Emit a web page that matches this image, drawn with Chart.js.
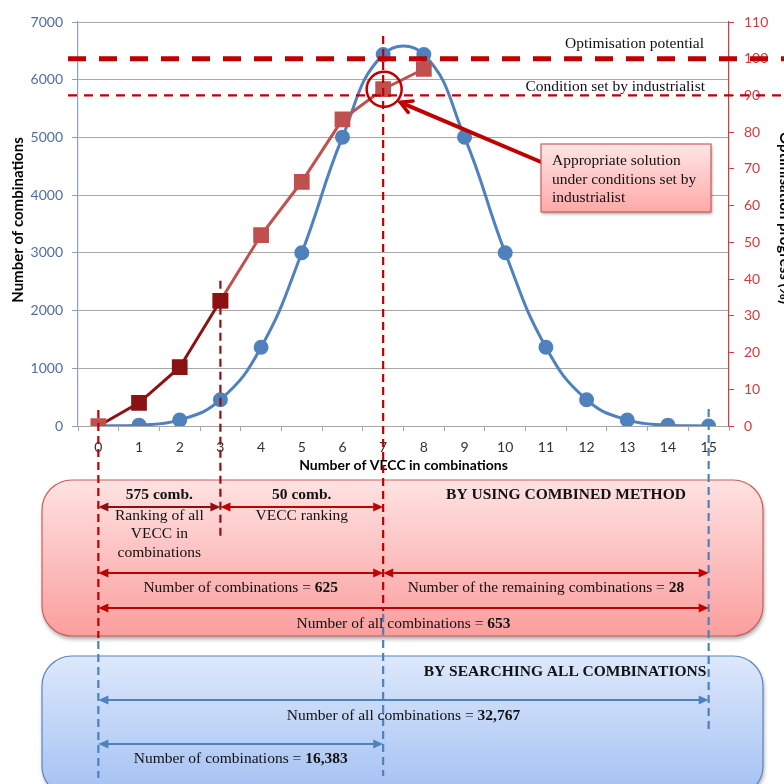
<!DOCTYPE html>
<html><head><meta charset="utf-8">
<script src="https://cdn.jsdelivr.net/npm/chart.js@4"></script>
<style>html,body{margin:0;padding:0;background:#fff;overflow:hidden}#wrap{width:784px;height:784px;position:relative}</style>
</head><body><div id="wrap"><canvas id="c"></canvas></div>
<script>
const categories = ['0','1','2','3','4','5','6','7','8','9','10','11','12','13','14','15'];
const combinations = [1,15,105,455,1365,3003,5005,6435,6435,5005,3003,1365,455,105,15,1];
const rankingProgress = [0,6.3,16.0,34.1];
const veccProgress = [null,null,null,34.1,52.0,66.5,83.5,91.7,97.2];
const leftTicks = [0,1000,2000,3000,4000,5000,6000,7000];
const rightTicks = [0,10,20,30,40,50,60,70,80,90,100,110];
const optimisationPotential = 100;
const industrialistCondition = 90;
const chosenIndex = 7;

const SERIF = '"Liberation Serif", "Times New Roman", serif';
const SANS = 'Lato, "Open Sans", sans-serif';
const RED = '#c00000', DARK = '#8b1212', LRED = '#c0504d', BLUE = '#4f81bd';
const FS = 15.5;

function dashedV(ctx, x, y1, y2, color, w, dash){
  ctx.save();ctx.strokeStyle=color;ctx.lineWidth=w;ctx.setLineDash(dash);
  ctx.beginPath();ctx.moveTo(x,y1);ctx.lineTo(x,y2);ctx.stroke();ctx.restore();
}
function dashedH(ctx, x1, x2, y, color, w, dash){
  ctx.save();ctx.strokeStyle=color;ctx.lineWidth=w;ctx.setLineDash(dash);
  ctx.beginPath();ctx.moveTo(x1,y);ctx.lineTo(x2,y);ctx.stroke();ctx.restore();
}
function dblArrow(ctx, x1, x2, y, color, left=true, right=true){
  const L=10, H=4.5;
  ctx.save();ctx.strokeStyle=color;ctx.fillStyle=color;ctx.lineWidth=2.2;
  ctx.beginPath();ctx.moveTo(x1+(left?L-2:0),y);ctx.lineTo(x2-(right?L-2:0),y);ctx.stroke();
  if(left){ctx.beginPath();ctx.moveTo(x1,y);ctx.lineTo(x1+L,y-H);ctx.lineTo(x1+L,y+H);ctx.closePath();ctx.fill();}
  if(right){ctx.beginPath();ctx.moveTo(x2,y);ctx.lineTo(x2-L,y-H);ctx.lineTo(x2-L,y+H);ctx.closePath();ctx.fill();}
  ctx.restore();
}
function roundBox(ctx, x, y, w, h, r, top, bottom, stroke){
  ctx.save();
  const g=ctx.createLinearGradient(0,y,0,y+h);g.addColorStop(0,top);g.addColorStop(1,bottom);
  ctx.beginPath();ctx.roundRect(x,y,w,h,r);
  ctx.shadowColor='rgba(0,0,0,0.35)';ctx.shadowBlur=4;ctx.shadowOffsetY=3;ctx.shadowOffsetX=1;
  ctx.fillStyle=g;ctx.fill();
  ctx.shadowColor='transparent';
  ctx.strokeStyle=stroke;ctx.lineWidth=1.2;ctx.stroke();
  ctx.restore();
}
function txt(ctx, parts, cx, cy, size, align='center'){
  ctx.save();ctx.textBaseline='middle';ctx.fillStyle='#111';
  let total=0;
  parts.forEach(p=>{ctx.font=(p[1]?'bold ':'')+size+'px '+SERIF;total+=ctx.measureText(p[0]).width;});
  let x = align==='center'?cx-total/2:(align==='right'?cx-total:cx);
  ctx.textAlign='left';
  parts.forEach(p=>{ctx.font=(p[1]?'bold ':'')+size+'px '+SERIF;ctx.fillText(p[0],x,cy);x+=ctx.measureText(p[0]).width;});
  ctx.restore();
}

const overlay = {
  id:'overlay',
  afterDraw(chart){
    const ctx=chart.ctx, xs=chart.scales.x, yl=chart.scales.y, yr=chart.scales.y1;
    const X=i=>xs.getPixelForValue(i);
    const x0=X(0), x3=X(3), x7=X(7), x15=X(15);
    const ca=chart.chartArea;

    // axis titles
    ctx.save();ctx.fillStyle='#000';ctx.font='bold 14px '+SANS;ctx.textAlign='center';ctx.textBaseline='middle';
    ctx.fillText('Number of VECC in combinations',(ca.left+ca.right)/2,465);
    ctx.restore();
    ctx.save();ctx.fillStyle='#000';ctx.font='bold 15px '+SANS;ctx.textAlign='center';ctx.textBaseline='middle';
    ctx.translate(18,220);ctx.rotate(-Math.PI/2);
    ctx.fillText('Number of combinations',0,0);
    ctx.restore();
    ctx.save();ctx.fillStyle='#000';ctx.font='bold 15px '+SANS;ctx.textAlign='center';ctx.textBaseline='alphabetic';
    ctx.translate(780,218);ctx.rotate(Math.PI/2);
    ctx.fillText('Optimisation progress (%)',0,0);
    ctx.restore();

    // horizontal dashed reference lines
    const y100=yr.getPixelForValue(optimisationPotential), y90=yr.getPixelForValue(industrialistCondition);
    dashedH(ctx,68,784,y100,RED,5,[18,13]);
    dashedH(ctx,68,784,y90,RED,2.2,[9,7]);
    txt(ctx,[['Optimisation potential',false]],704,y100-15,FS,'right');
    txt(ctx,[['Condition set by industrialist',false]],705,y90-9,FS,'right');

    // boxes
    roundBox(ctx,42,480,721,156,30,'#ffe2e2','#fb9e9e','#c9605d');
    roundBox(ctx,42,656,721,140,30,'#dde8fb','#a3c1f3','#5a86c0');

    // vertical dashed lines
    dashedV(ctx,x0,410,638,RED,2.2,[8,5]);
    dashedV(ctx,x0,641,778,BLUE,2.2,[8,5]);
    dashedV(ctx,x3,yr.getPixelForValue(rankingProgress[3])-20,537,DARK,2.2,[8,5]);
    dashedV(ctx,x7,36,611,RED,2.2,[8,5]);
    dashedV(ctx,x7,614,776,BLUE,2.2,[8,5]);
    dashedV(ctx,x15,409,730,BLUE,2.2,[8,5]);

    // circle around chosen point and arrow
    const py=yr.getPixelForValue(veccProgress[chosenIndex]);
    ctx.save();ctx.strokeStyle=RED;ctx.lineWidth=2.5;
    ctx.beginPath();ctx.arc(x7+1,py,17.5,0,Math.PI*2);ctx.stroke();
    const tx=x7+17, ty=py+13, sx=541, sy=162;
    ctx.lineWidth=4;ctx.lineCap='round';
    ctx.beginPath();ctx.moveTo(sx,sy);ctx.lineTo(tx+2,ty+1);ctx.stroke();
    const ang=Math.atan2(sy-ty,sx-tx);
    ctx.lineWidth=3.5;
    ctx.beginPath();
    ctx.moveTo(tx+13*Math.cos(ang+0.5),ty+13*Math.sin(ang+0.5));ctx.lineTo(tx,ty);
    ctx.lineTo(tx+13*Math.cos(ang-0.5),ty+13*Math.sin(ang-0.5));ctx.stroke();
    ctx.restore();
    // callout
    ctx.save();
    const g=ctx.createLinearGradient(0,144,0,212);g.addColorStop(0,'#ffe6e6');g.addColorStop(1,'#ffa8a8');
    ctx.shadowColor='rgba(0,0,0,0.35)';ctx.shadowBlur=3;ctx.shadowOffsetY=2;ctx.shadowOffsetX=1;
    ctx.fillStyle=g;ctx.fillRect(541,144,170,68);
    ctx.shadowColor='transparent';ctx.strokeStyle='#c9605d';ctx.lineWidth=1.2;ctx.strokeRect(541,144,170,68);
    ctx.restore();
    txt(ctx,[['Appropriate solution',false]],552,161,FS,'left');
    txt(ctx,[['under conditions set by',false]],552,180,FS,'left');
    txt(ctx,[['industrialist',false]],552,198,FS,'left');

    // red box content
    txt(ctx,[['BY USING COMBINED METHOD',true]],566,495,FS);
    txt(ctx,[['575 comb.',true]],(x0+x3)/2,495,FS);
    txt(ctx,[['50 comb.',true]],(x3+x7)/2,495,FS);
    dblArrow(ctx,x0,x3,507,DARK);
    dblArrow(ctx,x3,x7,507,RED);
    txt(ctx,[['Ranking of all',false]],(x0+x3)/2,516,FS);
    txt(ctx,[['VECC in',false]],(x0+x3)/2,534,FS);
    txt(ctx,[['combinations',false]],(x0+x3)/2,553,FS);
    txt(ctx,[['VECC ranking',false]],(x3+x7)/2,516,FS);
    dblArrow(ctx,x0,x7,573,RED);
    dblArrow(ctx,x7,x15,573,RED);
    txt(ctx,[['Number of combinations = ',false],['625',true]],(x0+x7)/2,588,FS);
    txt(ctx,[['Number of the remaining combinations = ',false],['28',true]],(x7+x15)/2,588,FS);
    dblArrow(ctx,x0,x15,608,RED);
    txt(ctx,[['Number of all combinations = ',false],['653',true]],(x0+x15)/2,624,FS);

    // blue box content
    txt(ctx,[['BY SEARCHING ALL COMBINATIONS',true]],565,672,FS);
    dblArrow(ctx,x0,x15,700,BLUE);
    txt(ctx,[['Number of all combinations = ',false],['32,767',true]],(x0+x15)/2,716,FS);
    dblArrow(ctx,x0,x7,744,BLUE);
    txt(ctx,[['Number of combinations = ',false],['16,383',true]],(x0+x7)/2,759,FS);
  }
};

new Chart(document.getElementById('c'),{
  type:'line',
  data:{
    labels:categories,
    datasets:[
      {label:'Ranking of all VECC',data:rankingProgress,yAxisID:'y1',borderColor:DARK,borderWidth:3,
       pointStyle:'rect',pointRadius:9,pointHoverRadius:9,
       pointBackgroundColor:[LRED,DARK,DARK,DARK],pointBorderColor:[LRED,DARK,DARK,DARK],order:0,tension:0},
      {label:'VECC ranking',data:veccProgress,yAxisID:'y1',borderColor:LRED,borderWidth:3,
       pointStyle:'rect',pointRadius:9,pointHoverRadius:9,pointBackgroundColor:LRED,pointBorderColor:LRED,order:1,tension:0},
      {label:'Number of combinations',data:combinations,yAxisID:'y',borderColor:BLUE,borderWidth:3,
       pointRadius:6,pointHoverRadius:6,pointBackgroundColor:BLUE,pointBorderColor:BLUE,tension:0.45,order:2}
    ]
  },
  options:{
    responsive:true,maintainAspectRatio:false,animation:false,devicePixelRatio:1,
    layout:{padding:{top:22,left:0,right:0,bottom:0}},
    plugins:{legend:{display:false},tooltip:{enabled:false}},
    scales:{
      x:{offset:true,
        grid:{offset:true,drawOnChartArea:false,drawTicks:true,tickLength:5,tickColor:'#a6a6a6'},
        border:{color:'#a6a6a6',width:1},
        ticks:{color:'#333',font:{family:SANS,size:14},padding:8,maxRotation:0,autoSkip:false},
        afterFit:s=>{s.height=358;}
      },
      y:{position:'left',min:0,max:7000,
        afterBuildTicks:s=>{s.ticks=leftTicks.map(v=>({value:v}));},
        grid:{color:'#a6a6a6',tickColor:'#8aa0c4',tickLength:6},
        border:{color:'#8aa0c4',width:1.2},
        ticks:{color:'#4f6fa0',font:{family:SANS,size:14},padding:9,callback:v=>String(v)},
        afterFit:s=>{s.width=78;}
      },
      y1:{position:'right',min:0,max:110,
        afterBuildTicks:s=>{s.ticks=rightTicks.map(v=>({value:v}));},
        grid:{drawOnChartArea:false,tickColor:'#d9383a',tickLength:5},
        border:{color:'#d9383a',width:1.2},
        ticks:{color:'#d9383a',font:{family:SANS,size:14},padding:10,callback:v=>String(v)},
        afterFit:s=>{s.width=55;}
      }
    }
  },
  plugins:[overlay]
});
</script></body></html>
